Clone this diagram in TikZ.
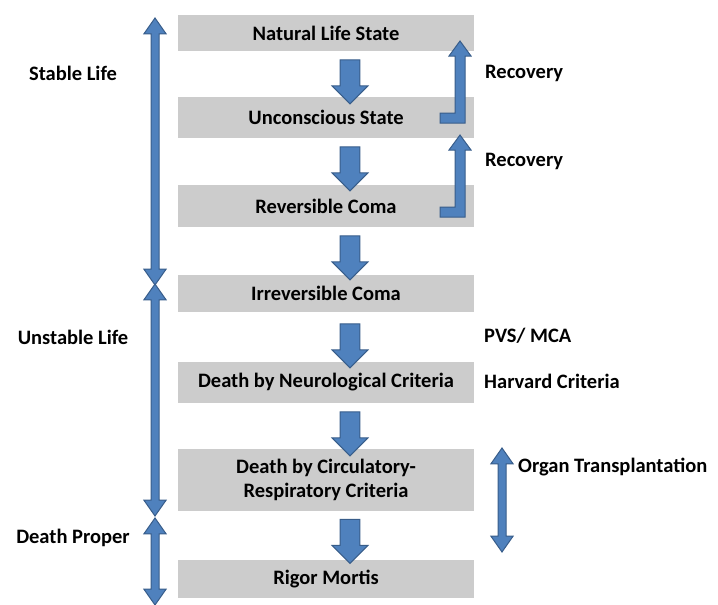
\documentclass[tikz,border=0pt]{standalone}
\usepackage{fontspec}
\setmainfont{Carlito}
\usetikzlibrary{shapes.arrows,positioning,calc}
\definecolor{arrowblue}{HTML}{4F81BD}
\definecolor{arrowline}{HTML}{385D8A}

\begin{document}
\begin{tikzpicture}[x=1pt,y=-1pt,
  stage/.style={rectangle,fill=gray!40,minimum width=296pt,inner sep=0pt,align=center,
    font=\fontsize{20.5}{24}\selectfont\bfseries},
  lbl/.style={font=\fontsize{20.5}{24}\selectfont\bfseries,inner sep=0pt},
  downArrow/.style={single arrow,fill=arrowblue,draw=arrowline,line width=1pt,
    minimum width=36pt,minimum height=44pt,inner sep=8pt,
    single arrow head indent=0pt,shape border rotate=270},
  span/.style={double arrow,fill=arrowblue,draw=arrowline,line width=1pt,
    minimum width=20pt,inner sep=3.5pt,double arrow tip angle=70,
    shape border rotate=90},
  bent/.style={fill=arrowblue,draw=arrowline,line width=1pt}
]
\useasboundingbox (0,0) rectangle (718,605);
% stages
\node[stage,minimum height=36pt] (nat) at (326,33) {Natural Life State};
\node[stage,minimum height=41pt] (unc) at (326,117.5) {Unconscious State};
\node[stage,minimum height=42pt] (rev) at (326,206) {Reversible Coma};
\node[stage,minimum height=37pt] (irr) at (326,293.5) {Irreversible Coma};
\node[stage,minimum height=41pt] (dnc) at (326,382.5) {Death by Neurological Criteria};
\node[stage,minimum height=62pt] (dcr) at (326,480) {Death by Circulatory-\\Respiratory Criteria};
\node[stage,minimum height=38pt] (rig) at (326,579) {Rigor Mortis};
% block arrows between stages
\node[downArrow] (a1) at (350,77) {};
\node[downArrow] (a2) at (350,164) {};
\node[downArrow] (a3) at (350,253) {};
\node[downArrow] (a4) at (350,341) {};
\node[downArrow] (a5) at (350,429) {};
\node[downArrow] (a6) at (350,536.5) {};
% left spans
\node[span,minimum height=267pt] (stable) at (155,151.5) {};
\node[span,minimum height=232pt] (unstable) at (155,400) {};
\node[span,minimum height=87pt] (proper) at (155,561.5) {};
\node[lbl] (lstable) at (73,73) {Stable Life};
\node[lbl] (lunstable) at (73,337) {Unstable Life};
\node[lbl] (lproper) at (73,538) {Death Proper};
% recovery arrows
\foreach \dy in {0,94}{
  \draw[bent] (440,113+\dy) -- (455,113+\dy) -- (455,56+\dy) -- (449,56+\dy) -- (460,41+\dy)
    -- (471,56+\dy) -- (465,56+\dy) -- (465,123+\dy) -- (440,123+\dy) -- cycle;
}
\node[lbl,anchor=west] (rec1) at (485,73) {Recovery};
\node[lbl,anchor=west] (rec2) at (485,161) {Recovery};
% right side notes
\node[lbl,anchor=west] (pvs) at (484,336) {PVS/ MCA};
\node[lbl,anchor=west] (harv) at (484,381) {Harvard Criteria};
\node[span,minimum height=104pt] (organ) at (502,500) {};
\node[lbl,anchor=west] (lorgan) at (518,467) {Organ Transplantation};
\end{tikzpicture}
\end{document}
